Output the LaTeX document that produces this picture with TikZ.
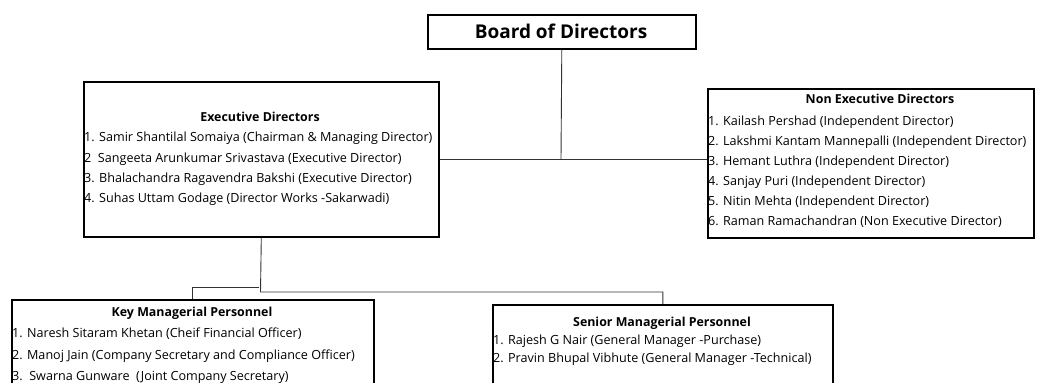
\documentclass[tikz,border=0pt]{standalone}
\usepackage{fontspec}
\setmainfont{Open Sans}
\begin{document}
\begin{tikzpicture}[x=1pt,y=-1pt,
  box/.style={draw=black,line width=1.6pt,anchor=north west,inner sep=0pt},
  conn/.style={draw=black!80,line width=0.9pt},
  item/.style={anchor=west,inner sep=0pt,font=\fontsize{12.6}{14}\selectfont,text=black},
  head/.style={anchor=center,inner sep=0pt,font=\fontsize{12.4}{14}\selectfont\bfseries}]
\useasboundingbox (0,0) rectangle (1037,383);
\clip (0,0) rectangle (1037,383);
% boxes
\node[box,minimum width=268pt,minimum height=34pt] (board) at (427,14) {};
\node[anchor=center,inner sep=0pt,font=\fontsize{19}{22}\selectfont\bfseries] (boardt) at (561,31) {Board of Directors};
\node[box,minimum width=355pt,minimum height=155pt] (exec) at (83,81) {};
\node[box,minimum width=326pt,minimum height=149pt] (nonexec) at (707,88) {};
\node[box,minimum width=362pt,minimum height=120pt] (key) at (11,299) {};
\node[box,minimum width=340pt,minimum height=120pt] (senior) at (492,304) {};
% executive
\node[head] (et) at (260,117) {Executive Directors};
\node[item] (e1) at (84,138) {1. Samir Shantilal Somaiya (Chairman \& Managing Director)};
\node[item] (e2) at (84,159) {2\ \ Sangeeta Arunkumar Srivastava (Executive Director)};
\node[item] (e3) at (84,179) {3. Bhalachandra Ragavendra Bakshi (Executive Director)};
\node[item] (e4) at (84,199) {4. Suhas Uttam Godage (Director Works -Sakarwadi)};
% non executive
\node[head] (nt) at (880,99) {Non Executive Directors};
\node[item] (n1) at (708,122) {1. Kailash Pershad (Independent Director)};
\node[item] (n2) at (708,142) {2. Lakshmi Kantam Mannepalli (Independent Director)};
\node[item] (n3) at (708,162) {3. Hemant Luthra (Independent Director)};
\node[item] (n4) at (708,182) {4. Sanjay Puri (Independent Director)};
\node[item] (n5) at (708,202) {5. Nitin Mehta (Independent Director)};
\node[item] (n6) at (708,222) {6. Raman Ramachandran (Non Executive Director)};
% key managerial
\node[head] (kt) at (192,313) {Key Managerial Personnel};
\node[item] (k1) at (12,334) {1. Naresh Sitaram Khetan (Cheif Financial Officer)};
\node[item] (k2) at (12,356) {2. Manoj Jain (Company Secretary and Compliance Officer)};
\node[item] (k3) at (12,377) {3.\ \ Swarna Gunware\ \ (Joint Company Secretary)};
% senior managerial
\node[head] (st) at (662,323) {Senior Managerial Personnel};
\node[item] (s1) at (493,341) {1. Rajesh G Nair (General Manager -Purchase)};
\node[item] (s2) at (493,359) {2. Pravin Bhupal Vibhute (General Manager -Technical)};
% connectors
\coordinate (j1) at (561,159);
\coordinate (j2) at (260.5,292);
\coordinate (j3) at (259,287);
\draw[conn] (board.south) -- (j1);
\draw[conn] (exec.east |- j1) -- (nonexec.west |- j1);
\draw[conn] (exec.south) -- (j2) -| (senior.north);
\draw[conn] (j3) -| (key.north);
\end{tikzpicture}
\end{document}
